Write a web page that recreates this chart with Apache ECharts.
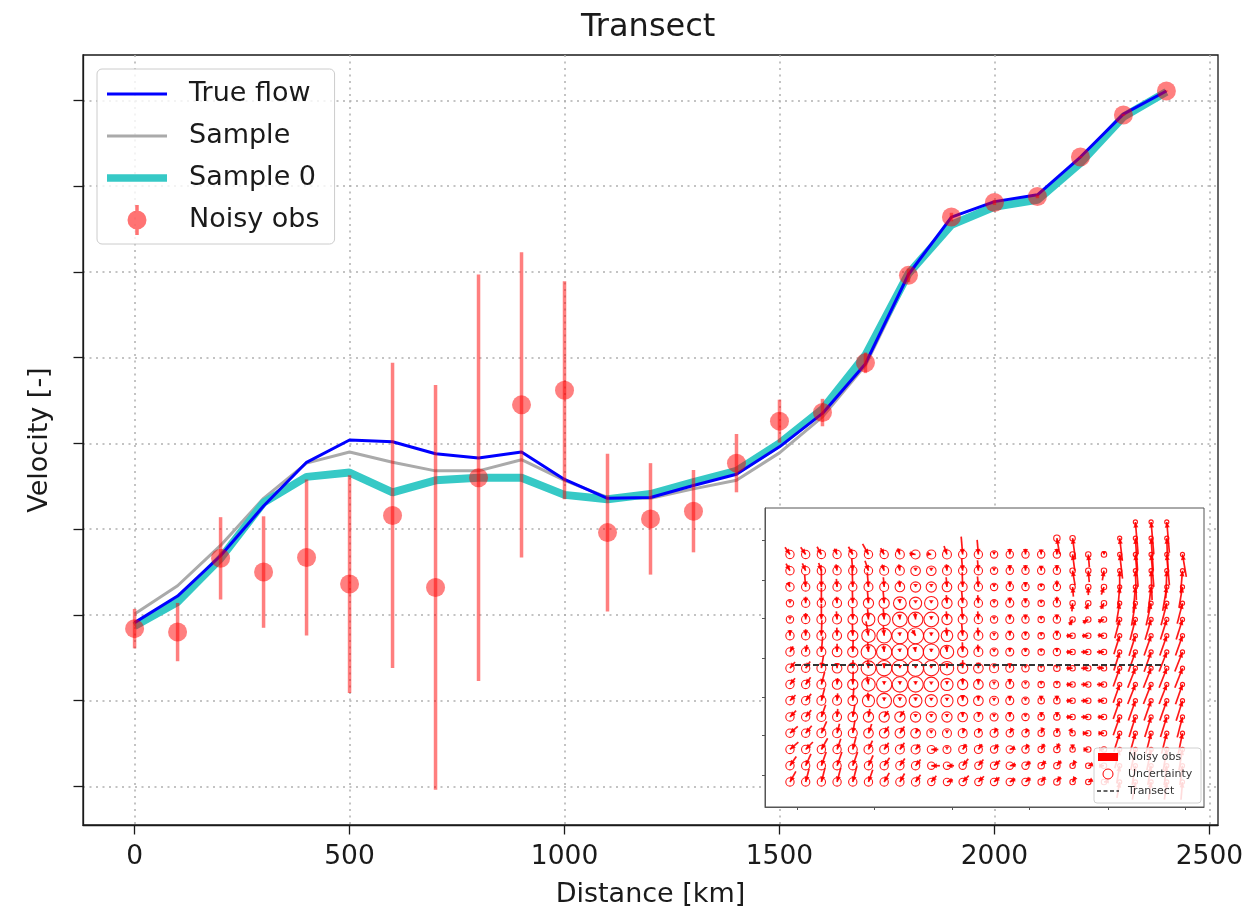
<!DOCTYPE html>
<html>
<head>
<meta charset="utf-8">
<title>Transect</title>
<script src="https://cdn.jsdelivr.net/npm/echarts@6.0.0/dist/echarts.min.js"></script>
<style>
  html, body { margin: 0; padding: 0; background: #ffffff; }
  #chart { width: 1244px; height: 910px; }
</style>
</head>
<body>
<div id="chart"></div>
<script>
// ---------- transect profile ----------
const distanceKm = [0, 100, 200, 300, 400, 500, 600, 700, 800, 900, 1000, 1100, 1200,
  1300, 1400, 1500, 1600, 1700, 1800, 1900, 2000, 2100, 2200, 2300, 2400];
const trueFlow = [1.91, 2.22, 2.69, 3.27, 3.78, 4.04, 4.02, 3.88, 3.83, 3.90, 3.58, 3.36, 3.37,
  3.51, 3.64, 3.96, 4.35, 4.93, 5.97, 6.64, 6.82, 6.90, 7.34, 7.84, 8.11];
const sample = [2.01, 2.34, 2.81, 3.36, 3.77, 3.90, 3.78, 3.68, 3.68, 3.81, 3.57, 3.37, 3.36,
  3.47, 3.57, 3.89, 4.31, 4.91, 5.94, 6.57, 6.79, 6.87, 7.30, 7.83, 8.11];
const sample0 = [1.87, 2.15, 2.66, 3.31, 3.61, 3.66, 3.43, 3.57, 3.60, 3.60, 3.40, 3.35, 3.41,
  3.55, 3.68, 4.00, 4.40, 5.03, 5.98, 6.55, 6.76, 6.84, 7.27, 7.81, 8.10];
const noisyObs = [1.84, 1.80, 2.66, 2.50, 2.67, 2.36, 3.16, 2.32, 3.60, 4.45, 4.62, 2.96, 3.12,
  3.21, 3.77, 4.26, 4.36, 4.94, 5.96, 6.64, 6.81, 6.88, 7.34, 7.83, 8.11];
const noisyErr = [0.23, 0.34, 0.48, 0.65, 0.91, 1.27, 1.78, 2.36, 2.37, 1.78, 1.27, 0.92, 0.65,
  0.48, 0.34, 0.25, 0.16, 0.12, 0.08, 0.05, 0.03, 0.02, 0.01, 0.01, 0.005];
const xTickValues = [0, 500, 1000, 1500, 2000, 2500];
const yTickValues = [0, 1, 2, 3, 4, 5, 6, 7, 8];

// ---------- inset: observed velocity field (26 columns x 17 rows) ----------
// angle: direction of the shaft from the observation point (deg, 90 = up)
// length: shaft length in grid cells, sigma: uncertainty radius in grid cells
const _ = null;
const quiverAngle = [
  [_,_,_,_,_,_,_,_,_,_,_,_,_,_,_,_,_,_,_,_,_,_,-85,-85,-85,_],
  [_,_,_,_,_,_,_,_,_,_,_,_,_,_,_,_,_,-80,-82,_,_,-83,-86,-86,-88,_],
  [125,125,120,115,120,120,120,110,170,170,110,95,95,90,90,90,90,90,-82,-85,90,-83,-85,-85,-85,-80],
  [120,115,110,100,95,110,110,100,90,90,95,95,95,90,90,90,90,90,-80,-85,-100,-90,-88,-88,-92,-95],
  [115,95,90,95,92,95,95,95,90,90,95,92,95,90,90,90,90,90,-85,-90,-110,-95,-95,-97,-100,-100],
  [90,90,90,95,92,95,95,95,90,90,95,95,95,90,90,90,90,90,-95,-110,-120,-100,-100,-103,-105,-105],
  [90,90,90,95,92,95,95,95,95,90,95,95,95,90,90,90,90,90,-120,-150,-160,-105,-105,-107,-108,-108],
  [90,90,88,92,92,100,95,95,120,90,95,95,95,90,90,90,90,90,180,180,175,-108,-108,-110,-110,-110],
  [60,80,85,90,88,95,95,95,100,90,95,92,95,90,90,90,90,90,180,180,180,-108,-110,-110,-112,-112],
  [50,55,80,90,88,95,90,90,90,90,90,90,90,90,90,90,90,90,180,180,175,-110,-112,-112,-112,-112],
  [50,55,75,85,88,100,90,90,90,90,90,90,90,90,90,90,90,90,180,180,180,-110,-112,-112,-112,-110],
  [45,50,75,85,85,95,90,90,90,90,90,90,90,90,90,90,90,90,180,180,180,-110,-110,-110,-110,-108],
  [45,50,70,85,80,80,55,55,90,90,90,90,80,90,90,90,85,85,180,180,180,-110,-108,-108,-108,-105],
  [40,50,65,75,80,70,55,55,60,90,90,70,70,60,60,60,70,80,120,180,180,-108,-106,-105,-105,-102],
  [40,45,60,70,75,65,55,55,50,0,90,55,55,50,20,60,60,70,90,180,180,-105,-103,-102,-100,-100],
  [55,65,70,70,70,65,55,55,50,0,0,50,50,40,10,40,45,50,60,20,180,-100,-100,-100,-98,-98],
  [60,75,75,75,75,70,60,60,55,50,20,45,45,40,30,40,50,55,60,30,10,-100,-100,-98,-98,-95]
];
const quiverLength = [
  [_,_,_,_,_,_,_,_,_,_,_,_,_,_,_,_,_,_,_,_,_,_,2.0,2.0,1.9,_],
  [_,_,_,_,_,_,_,_,_,_,_,_,_,_,_,_,_,1.0,1.3,_,_,1.4,2.0,2.0,1.9,_],
  [0.55,0.55,0.55,0.4,0.55,0.75,0.45,0.4,0.4,0.25,0.55,1.1,0.9,0.15,0.35,0.35,0.3,0.35,1.0,0.8,0.2,1.5,2.0,2.0,1.9,1.4],
  [0.5,0.5,0.5,0.4,0.75,0.65,0.4,0.4,0.1,0.1,0.4,0.75,0.65,0.1,0.35,0.35,0.3,0.35,0.9,0.7,0.6,1.4,1.8,1.8,1.7,1.4],
  [0.3,0.75,1.1,0.5,1.1,0.9,0.6,0.4,0.05,0.05,0.6,0.9,0.65,0.1,0.35,0.3,0.15,0.4,0.6,0.5,0.5,1.3,1.6,1.6,1.5,1.3],
  [0.05,0.4,0.95,0.4,0.75,0.75,0.75,0.25,0.05,0.1,0.5,0.75,0.5,0.05,0.35,0.3,0.1,0.4,0.5,0.4,0.4,1.2,1.4,1.4,1.4,1.3],
  [0.05,0.4,0.95,0.5,0.75,0.65,0.65,0.3,0.4,0.2,0.5,0.75,0.5,0.05,0.3,0.3,0.1,0.3,0.4,0.4,0.4,1.2,1.3,1.3,1.3,1.3],
  [0.35,0.4,0.95,0.5,0.75,0.9,0.6,0.2,0.4,0.2,0.5,0.75,0.5,0.05,0.3,0.25,0.05,0.3,0.4,0.4,0.4,1.2,1.3,1.3,1.3,1.3],
  [0.4,0.45,0.95,0.5,0.75,0.6,0.4,0.2,0.3,0.2,0.4,0.6,0.45,0.05,0.25,0.2,0.05,0.25,0.4,0.45,0.45,1.2,1.3,1.3,1.3,1.3],
  [0.5,0.5,0.8,0.3,0.5,0.5,0.3,0.2,0.2,0.1,0.3,0.5,0.35,0.05,0.3,0.05,0.05,0.05,0.4,0.45,0.45,1.2,1.3,1.3,1.3,1.3],
  [0.5,0.55,0.8,0.4,0.8,0.5,0.2,0.2,0.2,0.1,0.2,0.4,0.35,0.05,0.35,0.05,0.05,0.05,0.4,0.45,0.45,1.2,1.3,1.3,1.3,1.3],
  [0.5,0.55,0.8,0.45,0.8,0.5,0.2,0.2,0.2,0.15,0.15,0.35,0.3,0.1,0.3,0.05,0.3,0.3,0.4,0.45,0.4,1.2,1.3,1.3,1.3,1.3],
  [0.55,0.55,0.8,0.5,0.75,0.5,0.45,0.45,0.1,0.1,0.1,0.3,0.3,0.1,0.3,0.05,0.3,0.3,0.4,0.45,0.4,1.2,1.3,1.3,1.3,1.3],
  [0.65,0.6,0.8,0.6,0.8,0.6,0.5,0.5,0.3,0.1,0.1,0.3,0.3,0.35,0.35,0.3,0.35,0.3,0.3,0.35,0.35,1.2,1.3,1.3,1.3,1.3],
  [0.7,0.65,0.8,0.7,0.8,0.6,0.5,0.5,0.4,0.45,0.05,0.4,0.4,0.4,0.35,0.35,0.4,0.4,0.3,0.3,0.3,1.2,1.3,1.3,1.3,1.3],
  [0.7,0.8,0.9,0.9,0.9,0.7,0.6,0.55,0.5,0.55,0.45,0.55,0.5,0.5,0.4,0.4,0.4,0.4,0.35,0.3,0.3,1.1,1.2,1.2,1.2,1.2],
  [0.75,0.85,0.9,0.9,1.0,0.8,0.65,0.6,0.55,0.5,0.4,0.55,0.5,0.45,0.4,0.4,0.4,0.4,0.35,0.3,0.3,1.0,1.1,1.1,1.1,1.1]
];
const quiverSigma = [
  [_,_,_,_,_,_,_,_,_,_,_,_,_,_,_,_,_,_,_,_,_,_,0.13,0.13,0.13,_],
  [_,_,_,_,_,_,_,_,_,_,_,_,_,_,_,_,_,0.2,0.17,_,_,0.13,0.13,0.13,0.13,_],
  [0.26,0.26,0.26,0.26,0.26,0.26,0.26,0.28,0.28,0.28,0.28,0.26,0.26,0.23,0.23,0.23,0.23,0.23,0.17,0.17,0.17,0.13,0.13,0.13,0.13,0.13],
  [0.26,0.26,0.26,0.26,0.26,0.26,0.28,0.28,0.3,0.3,0.28,0.26,0.26,0.23,0.23,0.23,0.23,0.23,0.17,0.17,0.17,0.13,0.13,0.13,0.13,0.13],
  [0.26,0.26,0.26,0.26,0.26,0.28,0.28,0.3,0.32,0.32,0.3,0.28,0.26,0.23,0.23,0.23,0.2,0.23,0.17,0.17,0.17,0.13,0.13,0.13,0.13,0.13],
  [0.23,0.26,0.26,0.28,0.28,0.32,0.32,0.4,0.38,0.42,0.32,0.28,0.26,0.23,0.25,0.23,0.2,0.23,0.17,0.17,0.17,0.13,0.13,0.13,0.13,0.13],
  [0.23,0.26,0.28,0.28,0.3,0.4,0.38,0.46,0.46,0.46,0.32,0.28,0.26,0.23,0.25,0.23,0.2,0.23,0.17,0.17,0.17,0.13,0.13,0.13,0.13,0.13],
  [0.26,0.26,0.28,0.28,0.32,0.42,0.46,0.5,0.5,0.48,0.36,0.3,0.28,0.25,0.25,0.23,0.2,0.23,0.17,0.17,0.17,0.13,0.13,0.13,0.13,0.13],
  [0.26,0.26,0.28,0.3,0.32,0.46,0.48,0.5,0.5,0.5,0.42,0.32,0.28,0.25,0.25,0.23,0.2,0.23,0.17,0.17,0.17,0.13,0.13,0.13,0.13,0.13],
  [0.26,0.26,0.28,0.3,0.32,0.46,0.48,0.5,0.5,0.48,0.42,0.32,0.3,0.28,0.25,0.23,0.2,0.2,0.17,0.17,0.17,0.13,0.13,0.13,0.13,0.13],
  [0.26,0.26,0.28,0.3,0.32,0.42,0.48,0.48,0.48,0.46,0.38,0.32,0.3,0.28,0.25,0.23,0.2,0.2,0.17,0.17,0.17,0.13,0.13,0.13,0.13,0.13],
  [0.26,0.26,0.28,0.28,0.3,0.38,0.46,0.4,0.4,0.38,0.38,0.32,0.3,0.28,0.25,0.23,0.2,0.2,0.17,0.17,0.17,0.13,0.13,0.13,0.13,0.13],
  [0.26,0.26,0.28,0.28,0.3,0.32,0.32,0.32,0.32,0.32,0.32,0.3,0.28,0.25,0.25,0.23,0.2,0.2,0.17,0.17,0.17,0.13,0.13,0.13,0.13,0.13],
  [0.26,0.26,0.28,0.28,0.28,0.3,0.3,0.3,0.3,0.28,0.28,0.28,0.25,0.25,0.23,0.23,0.2,0.2,0.17,0.17,0.17,0.13,0.13,0.13,0.13,0.13],
  [0.26,0.26,0.26,0.26,0.28,0.28,0.28,0.28,0.28,0.25,0.25,0.25,0.25,0.23,0.23,0.23,0.2,0.2,0.17,0.17,0.17,0.13,0.13,0.13,0.13,0.13],
  [0.26,0.26,0.26,0.26,0.26,0.26,0.26,0.26,0.26,0.23,0.23,0.23,0.23,0.23,0.23,0.23,0.2,0.2,0.17,0.17,0.17,0.13,0.13,0.13,0.13,0.13],
  [0.26,0.26,0.26,0.26,0.26,0.26,0.26,0.26,0.26,0.23,0.23,0.23,0.23,0.23,0.23,0.23,0.2,0.2,0.17,0.17,0.17,0.13,0.13,0.13,0.13,0.13]
];
const transectCols = [0.32, 23.9];
const transectRow = 8.8;
const insetTickCols = [0.45, 5.35, 10.32, 15.22, 20.25, 25.16];
const insetTickRows = [1.11, 3.57, 5.91, 8.37, 10.77, 13.11, 15.57];

// ---------- chart ----------
const FONT = 'DejaVu Sans';
const INK = '#1a1a1a';
const OBS_RED = '#ff0000';
const COLOR_TRUE = '#0000ff';
const COLOR_SAMPLE = '#aaaaaa';
const COLOR_SAMPLE0 = '#36c9c6';
const INSET_LEGEND_Z = 40;

const pairs = (ys) => distanceKm.map((x, k) => [x, ys[k]]);
const obsData = distanceKm.map((x, k) => [x, noisyObs[k], noisyErr[k]]);

const quiverData = [];
quiverAngle.forEach((row, r) => row.forEach((a, i) => {
  if (a === null) return;
  quiverData.push([i, r, a, quiverLength[r][i], quiverSigma[r][i]]);
}));

const chart = echarts.init(document.getElementById('chart'), null, { renderer: 'canvas' });

const mainAxisLine = { show: true, onZero: false, lineStyle: { color: INK, width: 1.3 } };
const gridDots = { show: true, lineStyle: { color: '#b0b0b0', width: 1.5, type: [2, 4.5] } };
const insetText = (text, y) => ({
  type: 'text', x: 1128, y: y, z: INSET_LEGEND_Z + 1,
  style: { text: text, fontFamily: FONT, fontSize: 11, fill: '#333333', verticalAlign: 'middle' }
});

const option = {
  animation: false,
  backgroundColor: '#ffffff',
  textStyle: { fontFamily: FONT },
  title: {
    text: 'Transect', left: 581, top: 12, padding: 0,
    textStyle: { fontFamily: FONT, fontSize: 32, fontWeight: 'normal', color: INK }
  },
  legend: {
    orient: 'vertical', left: 97, top: 69,
    padding: [10, 15, 9, 10],
    itemWidth: 60, itemHeight: 30, itemGap: 12,
    backgroundColor: 'rgba(255,255,255,0.8)',
    borderColor: '#cccccc', borderWidth: 1, borderRadius: 5,
    selectedMode: false,
    textStyle: { fontFamily: FONT, fontSize: 27, color: INK, lineHeight: 30, padding: [0, 0, 0, 17] },
    data: [
      { name: 'True flow', icon: 'path://M0,0h60v3h-60z', itemStyle: { color: COLOR_TRUE } },
      { name: 'Sample', icon: 'path://M0,0h60v3h-60z', itemStyle: { color: COLOR_SAMPLE } },
      { name: 'Sample 0', icon: 'path://M0,0h64v8h-64z', itemStyle: { color: COLOR_SAMPLE0 } },
      {
        name: 'Noisy obs',
        icon: 'path://M0,15a9.5,9.5 0 1,1 19,0a9.5,9.5 0 1,1 -19,0zM7.75,0h3.5v30h-3.5z',
        itemStyle: { color: 'rgba(255,0,0,0.55)', opacity: 1 }
      }
    ]
  },
  grid: [
    { left: 83, top: 55, right: 26, bottom: 85, show: true, borderColor: INK, borderWidth: 1.3,
      backgroundColor: 'transparent', containLabel: false, outerBoundsMode: 'none' },
    { left: 765, top: 508, width: 439, height: 299, show: false, containLabel: false, outerBoundsMode: 'none' }
  ],
  xAxis: [
    {
      gridIndex: 0, type: 'value', min: -120, max: 2520,
      name: 'Distance [km]', nameLocation: 'middle', nameGap: 56,
      nameTextStyle: { fontFamily: FONT, fontSize: 27, color: INK },
      axisLine: mainAxisLine,
      axisTick: { show: true, inside: false, length: 9.5, customValues: xTickValues,
        lineStyle: { color: INK, width: 1.3 } },
      axisLabel: { show: true, customValues: xTickValues, margin: 19, fontFamily: FONT,
        fontSize: 26.5, color: INK, formatter: (v) => String(v) },
      splitLine: gridDots
    },
    {
      gridIndex: 1, type: 'value', min: -1.59, max: 26.37, z: 23,
      axisLine: { show: true, onZero: false, lineStyle: { color: '#555555', width: 1 } },
      axisTick: { show: true, length: 3, customValues: insetTickCols, lineStyle: { color: '#555555', width: 1 } },
      axisLabel: { show: false },
      splitLine: { show: false }
    }
  ],
  yAxis: [
    {
      gridIndex: 0, type: 'value', min: -0.45, max: 8.53,
      name: 'Velocity [-]', nameLocation: 'middle', nameGap: 30, nameRotate: 90,
      nameTextStyle: { fontFamily: FONT, fontSize: 27, color: INK },
      axisLine: mainAxisLine,
      axisTick: { show: true, inside: false, length: 9.5, customValues: yTickValues,
        lineStyle: { color: INK, width: 1.3 } },
      axisLabel: { show: false },
      splitLine: gridDots
    },
    {
      gridIndex: 1, type: 'value', min: -0.86, max: 17.54, inverse: true, z: 23,
      axisLine: { show: true, onZero: false, lineStyle: { color: '#555555', width: 1 } },
      axisTick: { show: true, length: 3, customValues: insetTickRows, lineStyle: { color: '#555555', width: 1 } },
      axisLabel: { show: false },
      splitLine: { show: false }
    }
  ],
  series: [
    {
      name: 'Sample', type: 'line', xAxisIndex: 0, yAxisIndex: 0, z: 2,
      data: pairs(sample), symbol: 'none',
      lineStyle: { color: COLOR_SAMPLE, width: 3 }, itemStyle: { color: COLOR_SAMPLE }
    },
    {
      name: 'Sample 0', type: 'line', xAxisIndex: 0, yAxisIndex: 0, z: 3,
      data: pairs(sample0), symbol: 'none',
      lineStyle: { color: COLOR_SAMPLE0, width: 8 }, itemStyle: { color: COLOR_SAMPLE0 }
    },
    {
      name: 'True flow', type: 'line', xAxisIndex: 0, yAxisIndex: 0, z: 4,
      data: pairs(trueFlow), symbol: 'none',
      lineStyle: { color: COLOR_TRUE, width: 3 }, itemStyle: { color: COLOR_TRUE }
    },
    {
      // vertical error bars of the noisy observations
      name: 'Noisy obs', type: 'custom', xAxisIndex: 0, yAxisIndex: 0, z: 5,
      data: obsData,
      encode: { x: 0, y: 1 },
      renderItem: (params, api) => {
        const x = api.value(0), y = api.value(1), e = api.value(2);
        const lo = api.coord([x, y - e]);
        const hi = api.coord([x, y + e]);
        return {
          type: 'line',
          shape: { x1: lo[0], y1: lo[1], x2: hi[0], y2: hi[1] },
          style: { stroke: OBS_RED, lineWidth: 3.5, opacity: 0.5 }
        };
      }
    },
    {
      name: 'Noisy obs', type: 'scatter', xAxisIndex: 0, yAxisIndex: 0, z: 6,
      data: obsData.map((d) => [d[0], d[1]]),
      symbol: 'circle', symbolSize: 19,
      itemStyle: { color: OBS_RED, opacity: 0.5 }
    },
    {
      // inset panel background and frame
      type: 'custom', xAxisIndex: 1, yAxisIndex: 1, z: 20, silent: true, clip: false,
      data: [[0, 0]],
      renderItem: (params) => {
        const cs = params.coordSys;
        return {
          type: 'rect',
          shape: { x: cs.x, y: cs.y, width: cs.width, height: cs.height },
          style: { fill: '#ffffff', stroke: '#555555', lineWidth: 1 }
        };
      }
    },
    {
      // quiver arrows with uncertainty circles
      type: 'custom', xAxisIndex: 1, yAxisIndex: 1, z: 21, silent: true, clip: false,
      data: quiverData,
      encode: { x: 0, y: 1 },
      renderItem: (params, api) => {
        const i = api.value(0), r = api.value(1);
        const ang = api.value(2) * Math.PI / 180;
        const len = api.value(3), sig = api.value(4);
        const p = api.coord([i, r]);
        const q = api.coord([i + len * Math.cos(ang), r - len * Math.sin(ang)]);
        const sz = api.size([sig, sig]);
        const rad = (Math.abs(sz[0]) + Math.abs(sz[1])) / 2;
        const dx = q[0] - p[0], dy = q[1] - p[1];
        const d = Math.hypot(dx, dy) || 1;
        const ux = dx / d, uy = dy / d;
        const hl = Math.min(5.5, Math.max(d, 3)), hw = 2.5;
        const bx = p[0] + ux * hl, by = p[1] + uy * hl;
        return {
          type: 'group',
          children: [
            { type: 'circle', shape: { cx: p[0], cy: p[1], r: rad },
              style: { fill: 'none', stroke: OBS_RED, lineWidth: 1.1, opacity: 0.9 } },
            { type: 'line', shape: { x1: p[0], y1: p[1], x2: q[0], y2: q[1] },
              style: { stroke: OBS_RED, lineWidth: 1.7, opacity: 0.9 } },
            { type: 'polygon',
              shape: { points: [[p[0], p[1]], [bx - uy * hw, by + ux * hw], [bx + uy * hw, by - ux * hw]] },
              style: { fill: OBS_RED, opacity: 0.9 } }
          ]
        };
      }
    },
    {
      // transect line across the field
      type: 'line', xAxisIndex: 1, yAxisIndex: 1, z: 22, silent: true,
      data: transectCols.map((c) => [c, transectRow]),
      symbol: 'none',
      lineStyle: { color: '#333333', width: 2.2, type: [6, 3] }
    }
  ],
  graphic: [
    { type: 'rect', z: INSET_LEGEND_Z, shape: { x: 1094, y: 748, width: 107, height: 55, r: 3 },
      style: { fill: 'rgba(255,255,255,0.85)', stroke: '#d0d0d0', lineWidth: 1 } },
    { type: 'rect', z: INSET_LEGEND_Z + 1, shape: { x: 1098, y: 753, width: 20, height: 8 },
      style: { fill: OBS_RED } },
    insetText('Noisy obs', 757),
    { type: 'circle', z: INSET_LEGEND_Z + 1, shape: { cx: 1108, cy: 774, r: 5 },
      style: { fill: 'none', stroke: OBS_RED, lineWidth: 1 } },
    insetText('Uncertainty', 774),
    { type: 'line', z: INSET_LEGEND_Z + 1, shape: { x1: 1097, y1: 791, x2: 1119, y2: 791 },
      style: { stroke: '#333333', lineWidth: 1.5, lineDash: [4, 2.5] } },
    insetText('Transect', 791)
  ]
};

chart.setOption(option);
</script>
</body>
</html>
